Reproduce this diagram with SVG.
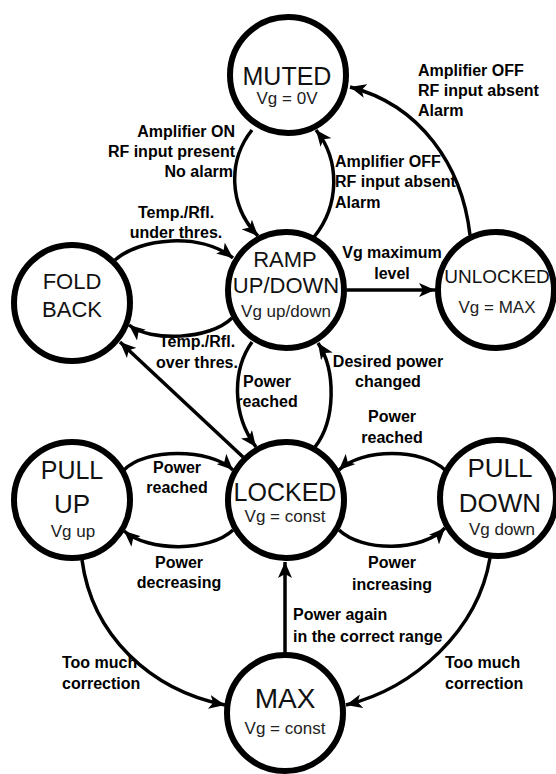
<svg xmlns="http://www.w3.org/2000/svg" width="556" height="774" viewBox="0 0 556 774">
<style>
.node{fill:#fff;stroke:#000;stroke-width:6}
.t{font-family:"Liberation Sans",Arial,sans-serif;fill:#111;text-anchor:middle}
.s{font-family:"Liberation Sans",Arial,sans-serif;fill:#222;text-anchor:middle;font-size:17px}
.e{fill:none;stroke:#000;stroke-width:3.5;marker-end:url(#ah)}
.l{font-family:"Liberation Sans",Arial,sans-serif;font-weight:bold;font-size:16px;fill:#000}
.c{text-anchor:middle}
.r{text-anchor:end}
</style>
<defs>
<marker id="ah" markerUnits="userSpaceOnUse" markerWidth="17" markerHeight="14" refX="16" refY="7" orient="auto" viewBox="0 0 17 14">
<path d="M0,0 L16,7 L0,14 L4,7 z" fill="#000"/>
</marker>
</defs>
<rect width="556" height="774" fill="#fff"/>
<g id="connectors">
<path class="e" d="M470,235 C462,165 420,105 350,87"/>
<path class="e" d="M252,130 C228,160 228,205 258,236"/>
<path class="e" d="M314,237 C340,205 340,160 316,130"/>
<path class="e" d="M115,260 C140,238 200,232 233,258"/>
<path class="e" d="M232,318 C210,340 150,342 129,325"/>
<path class="e" d="M347,290 L435,290"/>
<path class="e" d="M243,457 L120,342"/>
<path class="e" d="M252,342 C232,370 232,415 256,447"/>
<path class="e" d="M315,447 C336,420 336,370 318,343"/>
<path class="e" d="M124,470 C145,448 210,448 233,470"/>
<path class="e" d="M233,530 C210,552 148,552 124,531"/>
<path class="e" d="M445,470 C422,448 362,448 339,470"/>
<path class="e" d="M339,530 C362,552 422,552 445,528"/>
<path class="e" d="M82,560 C92,635 150,690 225,705"/>
<path class="e" d="M490,558 C478,630 415,688 346,705"/>
<path class="e" d="M285,652 L285,562"/>
</g>
<g id="labels">
<text class="l" x="418" y="76">Amplifier OFF</text>
<text class="l" x="418" y="96">RF input absent</text>
<text class="l" x="418" y="116">Alarm</text>
<text class="l r" x="235" y="137">Amplifier ON</text>
<text class="l r" x="235" y="157">RF input present</text>
<text class="l r" x="233" y="177">No alarm</text>
<text class="l" x="335" y="167">Amplifier OFF</text>
<text class="l" x="335" y="187">RF input absent</text>
<text class="l" x="335" y="208">Alarm</text>
<text class="l c" x="176" y="218">Temp./Rfl.</text>
<text class="l c" x="176" y="238">under thres.</text>
<text class="l c" x="392" y="258">Vg maximum</text>
<text class="l c" x="392" y="279">level</text>
<text class="l c" x="197" y="347">Temp./Rfl.</text>
<text class="l c" x="197" y="368">over thres.</text>
<text class="l c" x="388" y="367">Desired power</text>
<text class="l c" x="388" y="387">changed</text>
<text class="l c" x="267" y="387">Power</text>
<text class="l c" x="267" y="407">reached</text>
<text class="l c" x="177" y="473">Power</text>
<text class="l c" x="177" y="493">reached</text>
<text class="l c" x="179" y="568">Power</text>
<text class="l c" x="179" y="588">decreasing</text>
<text class="l c" x="392" y="422">Power</text>
<text class="l c" x="392" y="443">reached</text>
<text class="l c" x="392" y="568">Power</text>
<text class="l c" x="392" y="590">increasing</text>
<text class="l" x="293" y="620">Power again</text>
<text class="l" x="293" y="642">in the correct range</text>
<text class="l" x="62" y="668">Too much</text>
<text class="l" x="62" y="689">correction</text>
<text class="l" x="445" y="668">Too much</text>
<text class="l" x="445" y="689">correction</text>
</g>
<g id="muted">
<circle class="node" cx="288" cy="75" r="58"/>
<text class="t" x="287" y="85" font-size="25">MUTED</text>
<text class="s" x="287" y="104">Vg = 0V</text>
</g>
<g id="foldback">
<circle class="node" cx="72" cy="303" r="58"/>
<text class="t" x="72" y="289" font-size="22">FOLD</text>
<text class="t" x="72" y="317" font-size="22">BACK</text>
</g>
<g id="ramp">
<circle class="node" cx="286" cy="290" r="58"/>
<text class="t" x="285" y="267" font-size="22">RAMP</text>
<text class="t" x="286" y="293" font-size="22">UP/DOWN</text>
<text class="s" x="286" y="317">Vg up/down</text>
</g>
<g id="unlocked">
<circle class="node" cx="496" cy="290" r="58"/>
<text class="t" x="497" y="283" font-size="19">UNLOCKED</text>
<text class="s" x="497" y="313">Vg = MAX</text>
</g>
<g id="pullup">
<circle class="node" cx="72" cy="500" r="58"/>
<text class="t" x="72" y="479" font-size="25">PULL</text>
<text class="t" x="72" y="513" font-size="26">UP</text>
<text class="s" x="73" y="537">Vg up</text>
</g>
<g id="locked">
<circle class="node" cx="286" cy="500" r="58"/>
<text class="t" x="285" y="501" font-size="25">LOCKED</text>
<text class="s" x="285" y="522">Vg = const</text>
</g>
<g id="pulldown">
<circle class="node" cx="498" cy="498" r="58"/>
<text class="t" x="500" y="477" font-size="26">PULL</text>
<text class="t" x="500" y="512" font-size="26">DOWN</text>
<text class="s" x="502" y="535">Vg down</text>
</g>
<g id="max">
<circle class="node" cx="285" cy="713" r="58"/>
<text class="t" x="285" y="708" font-size="28">MAX</text>
<text class="s" x="285" y="734">Vg = const</text>
</g>
</svg>
